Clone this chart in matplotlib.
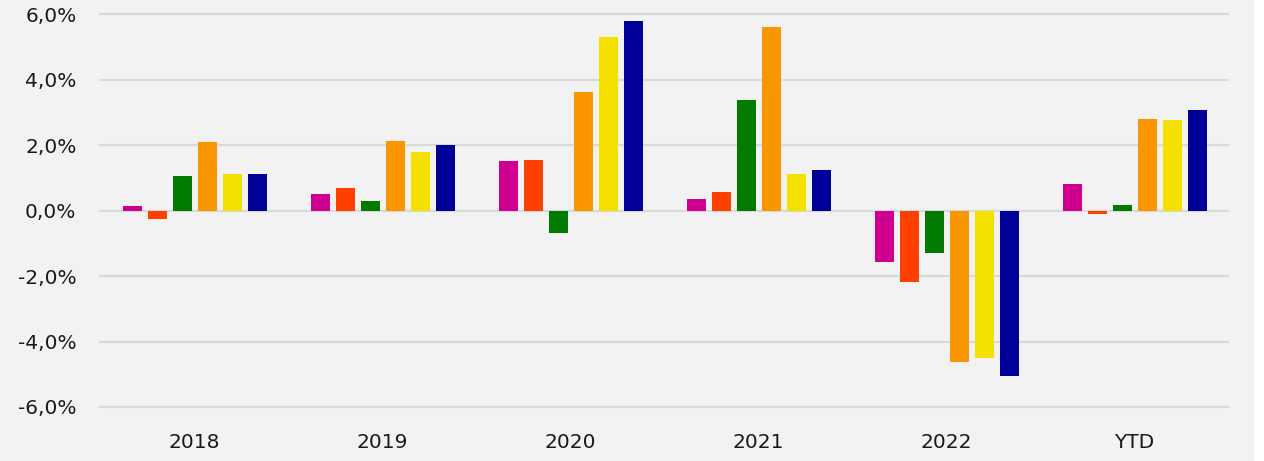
import matplotlib
matplotlib.use("Agg")
import matplotlib.pyplot as plt
import matplotlib.patches as mpatches
import numpy as np

categories = ["2018", "2019", "2020", "2021", "2022", "YTD"]
s1 = [0.13, 0.50, 1.52, 0.36, -1.56, 0.81]
s2 = [-0.24, 0.70, 1.54, 0.57, -2.17, -0.11]
s3 = [1.05, 0.31, -0.69, 3.39, -1.30, 0.17]
s4 = [2.10, 2.13, 3.63, 5.61, -4.63, 2.81]
s5 = [1.13, 1.79, 5.31, 1.13, -4.51, 2.77]
s6 = [1.12, 2.00, 5.81, 1.24, -5.05, 3.07]
series = [s1, s2, s3, s4, s5, s6]
colors = ["#CF008F", "#FF4000", "#007A00", "#FA9600", "#F5E100", "#000099"]
yticks = [-6, -4, -2, 0, 2, 4, 6]

plt.rcParams['font.family'] = ['DejaVu Sans']

fig = plt.figure(figsize=(12.64, 4.61), dpi=100)
fig.patch.set_facecolor("white")
fig.patches.append(mpatches.Rectangle((0, 0), 1254/1264, 1, transform=fig.transFigure,
                                      facecolor="#F2F2F2", edgecolor="none", zorder=-10))
ax = fig.add_axes([100/1264, 1 - 407/461, 1128/1264, (407 - 14.5)/461])
ax.set_facecolor("#F2F2F2")
ax.patch.set_alpha(0)

x = np.arange(len(categories))
slot = 25/188
width = 19/188
for i, (vals, c) in enumerate(zip(series, colors)):
    ax.bar(x + (i - 2.5) * slot + 0.006, vals, width=width, color=c, zorder=3)

ax.set_xlim(-0.5, len(categories) - 0.5)
ax.set_ylim(-6, 6)
ax.set_yticks(yticks)
ax.set_yticklabels([f"{v:.1f}%".replace(".", ",") for v in yticks])
ax.set_xticks(x)
ax.set_xticklabels(categories)
ax.yaxis.grid(True, color="#D9D9D9", linewidth=1.6, zorder=0)
ax.set_axisbelow(True)
for sp in ax.spines.values():
    sp.set_visible(False)
ax.tick_params(axis="both", length=0, labelsize=14.5, colors="#1a1a1a")
ax.tick_params(axis="y", pad=17)
ax.tick_params(axis="x", pad=19)
for gl in ax.get_ygridlines():
    gl.set_clip_on(False)

fig.savefig("out.png", dpi=100, facecolor=fig.get_facecolor())
